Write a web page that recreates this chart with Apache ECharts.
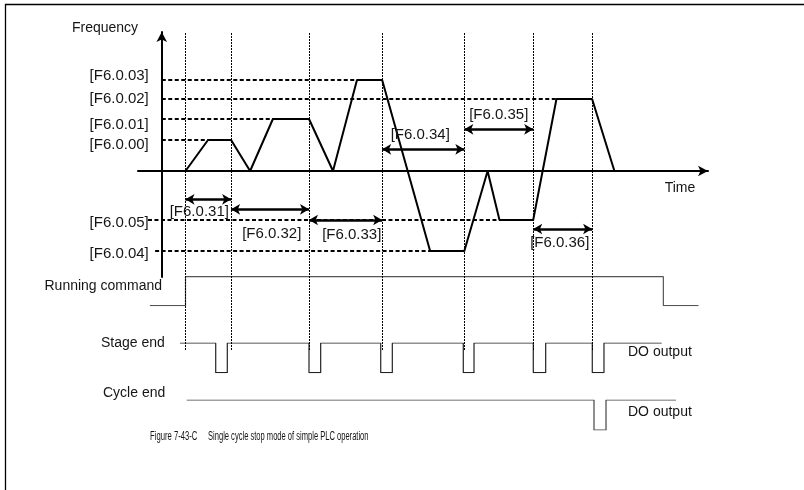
<!DOCTYPE html>
<html>
<head>
<meta charset="utf-8">
<script src="https://cdn.jsdelivr.net/npm/echarts@6/dist/echarts.min.js"></script>
<style>html,body{margin:0;padding:0;background:#fff}#c{width:804px;height:490px}</style>
</head>
<body>
<div id="c"></div>
<script>
// ---- data ----
const levelNames = ['[F6.0.00]', '[F6.0.01]', '[F6.0.02]', '[F6.0.03]', '[F6.0.04]', '[F6.0.05]'];
const levelValues = [15.5, 26, 36, 45.5, -40, -24.5];
const levelDashFrom = [0, 0, 0, 0, -1.4, -2.9];
const levelDashTo = [9.7, 23.4, 83.1, 41.1, 58.6, 73.3];
const stageBounds = [5, 14.6, 31, 46.4, 63.7, 78.2, 90.6];
const freqT = [5, 9.74, 14.6, 18.6, 23.4, 31, 36.05, 41.1, 46.4, 56.5, 63.7, 68.6, 71.1, 78.2, 83.1, 90.6, 95.3];
const freqF = [0, 15.5, 15.5, 0, 26, 26, 0, 45.5, 45.5, -40, -40, 0, -24.5, -24.5, 36, 36, 0];
const timeNames = ['[F6.0.31]', '[F6.0.32]', '[F6.0.33]', '[F6.0.34]', '[F6.0.35]', '[F6.0.36]'];
const timeStart = [5, 14.6, 31, 46.4, 63.7, 78.2];
const timeEnd = [14.6, 31, 46.4, 63.7, 78.2, 90.6];
const timeArrowF = [-14.15, -19.15, -24.5, 10.85, 20.85, -29];
const runT = [-2.5, 5, 105.6, 113];
const runS = [0, 1, 0, 0];
const stageT = [3.84, 11.36, 13.8, 31, 33.46, 46.1, 48.54, 63.48, 65.74, 78.22, 80.83, 90.64, 93.1, 105.25];
const stageS = [1, 0, 1, 0, 1, 0, 1, 0, 1, 0, 1, 0, 1, 1];
const cycleT = [5.25, 91, 93.53, 108.26];
const cycleS = [1, 0, 1, 1];

// ---- layout / style ----
const FONT = '"Liberation Sans", Arial, sans-serif';
const TXT = '#151515';
const levelLabelDy = [5, 6, 0, -4, 3, 3];
const timeLabelOff = [[-9, 12.4], [1.7, 24.7], [6.2, 15], [-3, -14.3], [0, -14.3], [-2.9, 14.3]];
const T_MIN = -5, T_MAX = 115;
const GL = 138, GW = 570;

const grids = [
  {left: GL, width: GW, top: 32, height: 245},   // frequency
  {left: GL, width: GW, top: 32, height: 318},   // stage boundary lines
  {left: GL, width: GW, top: 276.7, height: 29}, // running command
  {left: GL, width: GW, top: 343, height: 29.7}, // stage end
  {left: GL, width: GW, top: 400, height: 30}    // cycle end
];
const xAxes = grids.map((g, i) => ({
  gridIndex: i, type: 'value', min: T_MIN, max: T_MAX,
  show: i === 0,
  axisLine: {show: true, onZero: true, symbol: ['none', 'arrow'], symbolSize: [8, 10],
    lineStyle: {color: '#000', width: 2}},
  axisTick: {show: false}, axisLabel: {show: false}, splitLine: {show: false}
}));
const yAxes = grids.map((g, i) => i === 0 ? {
  gridIndex: 0, type: 'value', min: -53, max: 69.5,
  axisLine: {show: true, onZero: true, symbol: ['none', 'arrow'], symbolSize: [8, 10],
    lineStyle: {color: '#000', width: 2}},
  axisTick: {show: false}, axisLabel: {show: false}, splitLine: {show: false}
} : {gridIndex: i, type: 'value', min: 0, max: 1, show: false, splitLine: {show: false}});

const labelStyle = {color: TXT, fontSize: 15, fontFamily: FONT, textBorderWidth: 0, textBorderColor: 'transparent', opacity: 1};
const series = [];
// stage boundary dotted verticals
series.push({
  type: 'line', xAxisIndex: 1, yAxisIndex: 1, data: [], silent: true,
  markLine: {symbol: ['none', 'none'], silent: true, label: {show: false}, animation: false,
    lineStyle: {type: [2, 1], color: '#000', width: 1},
    data: stageBounds.map(t => ({xAxis: t}))}
});
// dashed level lines
levelValues.forEach((v, i) => {
  series.push({type: 'line', xAxisIndex: 0, yAxisIndex: 0, symbol: 'none', silent: true,
    lineStyle: {color: '#000', width: 1.8, type: [4, 2.5]},
    data: [[levelDashFrom[i], v], [levelDashTo[i], v]]});
});
// frequency curve + time arrows
series.push({
  type: 'line', xAxisIndex: 0, yAxisIndex: 0, symbol: 'none', silent: true, z: 5,
  lineStyle: {color: '#000', width: 2},
  data: freqT.map((t, i) => [t, freqF[i]]),
  markLine: {symbol: ['arrow', 'arrow'], symbolSize: [8, 9], silent: true, animation: false,
    label: {show: false},
    lineStyle: {type: 'solid', color: '#000', width: 2.5},
    data: timeNames.map((n, i) => [{coord: [timeStart[i], timeArrowF[i]]}, {coord: [timeEnd[i], timeArrowF[i]]}])}
});
// level labels
series.push({
  type: 'scatter', xAxisIndex: 0, yAxisIndex: 0, symbolSize: 0, silent: true, z: 6,
  itemStyle: {color: '#000', opacity: 1},
  data: levelNames.map((n, i) => ({name: n, value: [0, levelValues[i]],
    label: {offset: [0, levelLabelDy[i]]}})),
  label: Object.assign({show: true, position: 'left', distance: 13, formatter: p => p.name}, labelStyle)
});
// time labels
series.push({
  type: 'scatter', xAxisIndex: 0, yAxisIndex: 0, symbolSize: 0, silent: true, z: 6,
  itemStyle: {color: '#000', opacity: 1},
  data: timeNames.map((n, i) => ({name: n, value: [(timeStart[i] + timeEnd[i]) / 2, timeArrowF[i]],
    label: {offset: timeLabelOff[i]}})),
  label: Object.assign({show: true, position: 'inside', formatter: p => p.name}, labelStyle)
});
// signals
const sig = [[runT, runS, 2, '#555'], [stageT, stageS, 3, '#222'], [cycleT, cycleS, 4, '#444']];
sig.forEach(([T, S, gi, col]) => {
  series.push({type: 'line', xAxisIndex: gi, yAxisIndex: gi, symbol: 'none', step: 'end', silent: true,
    lineStyle: {color: col, width: 1.2}, data: T.map((t, i) => [t, S[i]])});
});

const txt = (x, y, s, align, size) => ({type: 'text', x, y, silent: true,
  style: {text: s, fill: TXT, font: (size || 14) + 'px ' + FONT, textAlign: align || 'left', textVerticalAlign: 'middle'}});

const chart = echarts.init(document.getElementById('c'), null, {renderer: 'canvas'});
chart.setOption({
  animation: false,
  backgroundColor: '#fff',
  grid: grids,
  xAxis: xAxes,
  yAxis: yAxes,
  series,
  graphic: [
    {type: 'polyline', silent: true, shape: {points: [[5.5, 490], [5.5, 4.5], [804, 4.5]]},
      style: {stroke: '#000', lineWidth: 1.3, fill: null}},
    txt(105, 28, 'Frequency', 'center'),
    txt(680, 188, 'Time', 'center'),
    txt(162, 286, 'Running command', 'right'),
    txt(101, 343, 'Stage end', 'left'),
    txt(103, 393, 'Cycle end', 'left'),
    txt(628, 352, 'DO output', 'left'),
    txt(628, 412, 'DO output', 'left'),
    {type: 'text', x: 150, y: 437, scaleX: 0.64, silent: true,
      style: {text: 'Figure 7-43-C', fill: TXT, font: '12px ' + FONT, textVerticalAlign: 'middle'}},
    {type: 'text', x: 208, y: 437, scaleX: 0.63, silent: true,
      style: {text: 'Single cycle stop mode of simple PLC operation', fill: TXT, font: '12px ' + FONT, textVerticalAlign: 'middle'}}
  ]
});
</script>
</body>
</html>
